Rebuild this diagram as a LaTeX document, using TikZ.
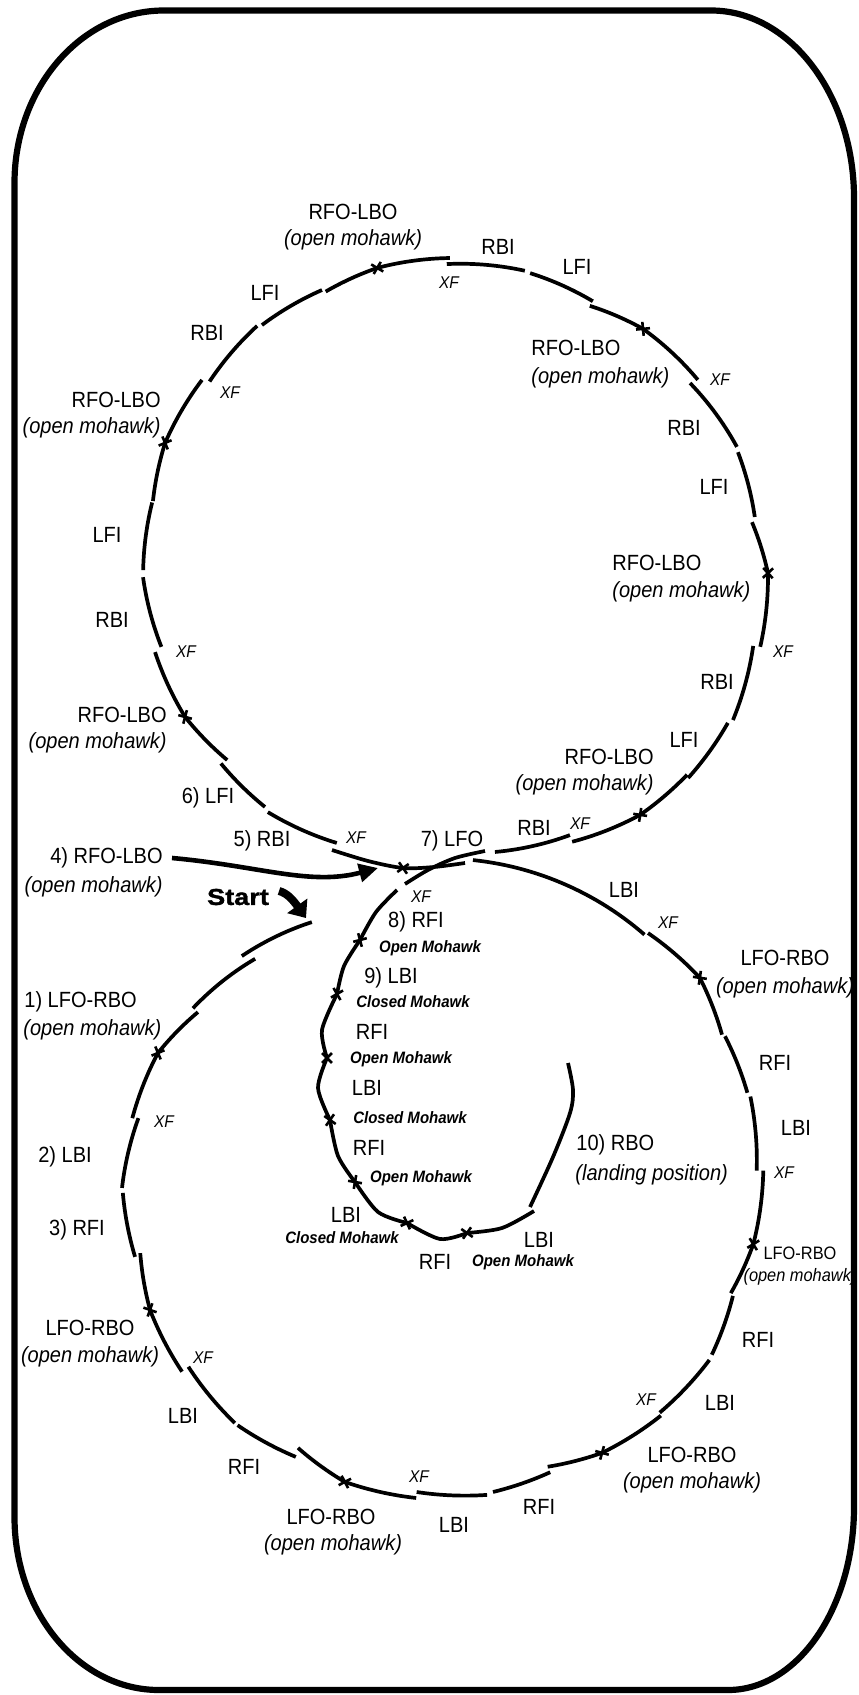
\documentclass[tikz,border=0pt]{standalone}
\usepackage{fontspec}
\setmainfont{Liberation Sans}
\newfontfamily\lab[FakeStretch=0.91]{Liberation Sans}
\newfontfamily\stf[FakeStretch=1.18,FakeBold=1.6]{Liberation Sans}
\usetikzlibrary{arrows.meta,calc}
% arc segment around centre (#1,#2) from angle #3 to #4, radius #5 -> #6
\newcommand\segA[6]{\draw[crv] plot[domain=#3:#4,samples=30,variable=\ang]({#1+(#5+(#6-(#5))*(\ang-(#3))/((#4)-(#3)))*cos(\ang)},{#2+(#5+(#6-(#5))*(\ang-(#3))/((#4)-(#3)))*sin(\ang)});}
% tick mark at named point #1, normal direction #2
\newcommand\tickp[2]{\draw[tkl] ($(#1)+({#2+45}:7)$) -- ($(#1)+({#2+225}:7)$) ($(#1)+({#2-45}:7)$) -- ($(#1)+({#2+135}:7)$);}
% arc segment with a mohawk tick at angle #4
\newcommand\segT[8]{\draw[crv] plot[domain=#3:#4,samples=20,variable=\ang]({#1+(#6+(#7-(#6))*(\ang-(#3))/((#4)-(#3)))*cos(\ang)},{#2+(#6+(#7-(#6))*(\ang-(#3))/((#4)-(#3)))*sin(\ang)}) -- plot[domain=#4:#5,samples=20,variable=\ang]({#1+(#7+(#8-(#7))*(\ang-(#4))/((#5)-(#4)))*cos(\ang)},{#2+(#7+(#8-(#7))*(\ang-(#4))/((#5)-(#4)))*sin(\ang)});
\coordinate (tkp) at ({#1+#7*cos(#4)},{#2+#7*sin(#4)}); \tickp{tkp}{#4}}
\tikzset{
  crv/.style={line width=1.85pt, line join=round},
  tkl/.style={line width=1.3pt},
  bord/.style={line width=3.1pt},
  lb/.style={font=\lab\fontsize{11}{13}\selectfont, inner sep=0pt},
  lbi/.style={font=\lab\itshape\fontsize{11}{13}\selectfont, inner sep=0pt},
  sm/.style={font=\lab\fontsize{9}{11}\selectfont, inner sep=0pt},
  smi/.style={font=\lab\itshape\fontsize{9}{11}\selectfont, inner sep=0pt},
  xf/.style={font=\lab\itshape\fontsize{8.5}{10}\selectfont, inner sep=0pt},
  mh/.style={font=\lab\bfseries\itshape\fontsize{8.25}{10}\selectfont, inner sep=0pt},
  st/.style={font=\stf\bfseries\fontsize{11.5}{13}\selectfont, inner sep=0pt},
  arrowfour/.style={line width=2.3pt, -{Triangle[length=9.5pt,width=9pt]}},
  startarrow/.style={line width=4pt, -{Triangle[length=7.5pt,width=12pt]}}
}
\begin{document}
\begin{tikzpicture}[x=0.5pt,y=-0.5pt]
\useasboundingbox (0,0) rectangle (858,1695);
% rink border
\draw[bord] (164,10.5) -- (711,10.5) .. controls (790,10.5) and (854,95) .. (854,198)
  -- (854,1507) .. controls (854,1608) and (797.6,1690) .. (728,1690)
  -- (159,1690) .. controls (79,1690) and (14.5,1612.5) .. (14.5,1517)
  -- (14.5,183) .. controls (14.5,87.7) and (81.4,10.5) .. cycle;

% ---------- upper loop ----------
\draw[crv] plot[smooth] coordinates {(332,850) (368,861) (403,868) (434,867) (465,863)};
\coordinate (tA) at (403,868); \tickp{tA}{100}
\segA{453}{561}{112.4}{126.4}{305}{312}
\segA{453}{561}{127.4}{138.9}{309.6}{308}
\segT{453}{561}{138.6}{149.8}{163.0}{301}{310}{311.6}
\segA{453}{561}{163.6}{177.0}{304}{310.4}
\segA{453}{561}{178.3}{191.0}{310}{306.5}
\segT{453}{561}{191.3}{202.3}{215.8}{306}{311.2}{309.5}
\segA{453}{561}{216.4}{230.2}{302.5}{306}
\segA{453}{561}{231.0}{244.2}{303.6}{301}
\segT{453}{561}{244.7}{255.5}{269.4}{298}{302.7}{303}
\segA{453}{561}{268.8}{283.9}{297}{299}
\segA{453}{561}{285.0}{298.3}{298}{295}
\segT{453}{561}{298.2}{309.3}{323.5}{289.5}{300}{304.6}
\segA{453}{561}{323.1}{338.1}{296.4}{306}
\segA{453}{561}{339.1}{351.7}{305}{305}
\segT{453}{561}{352.6}{362.2}{375.6}{301.5}{315.2}{319}
\segA{453}{561}{375.8}{389.6}{312}{322}
\segA{453}{561}{390.5}{402.7}{319}{320}
\segT{453}{561}{402.4}{413.6}{427.0}{317}{315.4}{305}
\segA{453}{561}{426.9}{441.8}{298}{294}
% 7) LFO
\draw[crv] plot[smooth] coordinates {(485,851) (455,858) (428,870) (405,884)};

% ---------- lower loop ----------
\segA{442}{1170}{-84.3}{-49.3}{311.5}{310.5}
\segT{442}{1170}{-49.0}{-36.7}{-25.8}{314}{321.6}{311}
\segA{442}{1170}{-25.3}{-14.2}{313}{315}
\segA{442}{1170}{-13.4}{0.1}{317}{314.7}
\segT{442}{1170}{0.1}{13.4}{23.1}{321.3}{320}{314}
\segA{442}{1170}{23.4}{34.4}{317}{327}
\segA{442}{1170}{35.4}{48.1}{328}{326}
\segT{442}{1170}{48.3}{60.5}{70.4}{329}{325}{315}
\segA{442}{1170}{70.3}{81.0}{321}{326}
\segA{442}{1170}{82.1}{94.5}{328}{323}
\segT{442}{1170}{94.5}{107.3}{117.4}{329}{326.7}{313}
\segA{442}{1170}{117.0}{128.7}{322}{327}
\segA{442}{1170}{129.3}{142.2}{327}{321}
\segT{442}{1170}{142.2}{154.4}{164.6}{329}{323.8}{313}
\segA{442}{1170}{164.2}{175.9}{319}{320}
\segA{442}{1170}{176.8}{189.7}{320.5}{308}
\segT{442}{1170}{189.5}{202.4}{212.9}{314}{307.2}{290.7}
\segA{442}{1170}{213.0}{228.5}{297}{282}
\segA{442}{1170}{226.9}{242.3}{293}{280}

% ---------- inner spiral ----------
\draw[crv] plot[smooth] coordinates {(397,890) (376,912) (360,940)}
  -- plot[smooth] coordinates {(360,940) (344,966) (337,994)}
  -- plot[smooth] coordinates {(337,994) (322,1030) (327,1058)}
  -- plot[smooth] coordinates {(327,1058) (318,1088) (330,1120)}
  -- plot[smooth] coordinates {(330,1120) (338,1156) (355,1182)}
  -- plot[smooth] coordinates {(355,1182) (378,1212) (407,1223)}
  -- plot[smooth] coordinates {(407,1223) (440,1239) (467,1233)}
  -- plot[smooth] coordinates {(467,1233) (502,1228) (534,1211)};
\coordinate (i1) at (360,940); \tickp{i1}{210}
\coordinate (i2) at (337,994); \tickp{i2}{195}
\coordinate (i3) at (327,1058); \tickp{i3}{180}
\coordinate (i4) at (330,1120); \tickp{i4}{170}
\coordinate (i5) at (355,1182); \tickp{i5}{145}
\coordinate (i6) at (407,1223); \tickp{i6}{110}
\coordinate (i7) at (467,1233); \tickp{i7}{80}
% 10) RBO
\draw[crv] plot[smooth] coordinates {(530,1207) (553,1157) (570,1113) (573,1090) (568,1063)};

% ---------- arrows ----------
\coordinate (a4s) at (172,858);
\coordinate (a4e) at (378,868);
\draw[arrowfour] (a4s) .. controls (260,866) and (310,886) .. (a4e);
\coordinate (s1) at (279,891);
\coordinate (s2) at (306,918);
\draw[startarrow] (s1) .. controls (287,893) and (293,900) .. (s2);

% ---------- labels: upper loop ----------
\node[lb] (u1) at (353,212) {RFO-LBO};
\node[lbi] (u1i) at (353,240) {(open mohawk)};
\node[lb] (u2) at (498,247) {RBI};
\node[lb] (u3) at (577,267) {LFI};
\node[lb] (u4) at (265,293) {LFI};
\node[lb] (u5) at (207,333) {RBI};
\node[xf] (u6) at (449,283) {XF};
\node[lb,anchor=west] (u7) at (531,348) {RFO-LBO};
\node[lbi,anchor=west] (u7i) at (531,378) {(open mohawk)};
\node[xf] (u8) at (720,380) {XF};
\node[lb,anchor=east] (u9) at (161,400) {RFO-LBO};
\node[lbi,anchor=east] (u9i) at (161,428) {(open mohawk)};
\node[xf] (u10) at (230,393) {XF};
\node[lb] (u11) at (684,428) {RBI};
\node[lb] (u12) at (714,487) {LFI};
\node[lb] (u13) at (107,535) {LFI};
\node[lb,anchor=west] (u14) at (612,563) {RFO-LBO};
\node[lbi,anchor=west] (u14i) at (612,592) {(open mohawk)};
\node[lb] (u15) at (112,620) {RBI};
\node[xf] (u16) at (186,652) {XF};
\node[xf] (u17) at (783,652) {XF};
\node[lb] (u18) at (717,682) {RBI};
\node[lb,anchor=east] (u19) at (167,715) {RFO-LBO};
\node[lbi,anchor=east] (u19i) at (167,743) {(open mohawk)};
\node[lb] (u20) at (684,740) {LFI};
\node[lb,anchor=east] (u21) at (654,757) {RFO-LBO};
\node[lbi,anchor=east] (u21i) at (654,785) {(open mohawk)};
\node[lb] (u22) at (208,798) {6) LFI};
\node[lb] (u23) at (534,828) {RBI};
\node[xf] (u24) at (580,824) {XF};
\node[lb] (u25) at (262,841) {5) RBI};
\node[xf] (u26) at (356,838) {XF};
\node[lb] (u27) at (452,841) {7) LFO};
\node[lb,anchor=east] (u28) at (163,858) {4) RFO-LBO};
\node[lbi,anchor=east] (u28i) at (163,887) {(open mohawk)};
\node[lb] (u29) at (624,890) {LBI};

% ---------- labels: lower part ----------
\node[st] (start) at (238,897) {Start};
\node[xf] (v1) at (421,897) {XF};
\node[lb] (v2) at (416,922) {8) RFI};
\node[xf] (v3) at (668,923) {XF};
\node[mh] (v4) at (430,948) {Open Mohawk};
\node[lb] (v5) at (785,958) {LFO-RBO};
\node[lbi] (v5i) at (785,988) {(open mohawk)};
\node[lb] (v6) at (391,978) {9) LBI};
\node[mh] (v7) at (413,1002) {Closed Mohawk};
\node[lb,anchor=west] (v8) at (24,1002) {1) LFO-RBO};
\node[lbi,anchor=west] (v8i) at (23,1030) {(open mohawk)};
\node[lb] (v9) at (372,1032) {RFI};
\node[mh] (v10) at (401,1059) {Open Mohawk};
\node[lb] (v11) at (775,1063) {RFI};
\node[lb] (v12) at (367,1088) {LBI};
\node[xf] (v13) at (164,1122) {XF};
\node[mh] (v14) at (410,1118) {Closed Mohawk};
\node[lb] (v15) at (796,1128) {LBI};
\node[lb,anchor=west] (v16) at (576,1145) {10) RBO};
\node[lbi,anchor=west] (v16i) at (575,1175) {(landing position)};
\node[lb] (v17) at (369,1148) {RFI};
\node[lb] (v18) at (65,1157) {2) LBI};
\node[mh] (v19) at (421,1178) {Open Mohawk};
\node[xf] (v20) at (784,1173) {XF};
\node[lb] (v21) at (346,1215) {LBI};
\node[mh] (v22) at (342,1238) {Closed Mohawk};
\node[lb] (v23) at (539,1240) {LBI};
\node[lb] (v24) at (77,1230) {3) RFI};
\node[sm] (v25) at (800,1253) {LFO-RBO};
\node[smi] (v25i) at (800,1277) {(open mohawk)};
\node[lb] (v26) at (435,1262) {RFI};
\node[mh] (v27) at (523,1262) {Open Mohawk};
\node[lb] (v28) at (90,1328) {LFO-RBO};
\node[lbi] (v28i) at (90,1357) {(open mohawk)};
\node[xf] (v29) at (203,1358) {XF};
\node[lb] (v30) at (758,1340) {RFI};
\node[lb] (v31) at (183,1416) {LBI};
\node[xf] (v32) at (646,1400) {XF};
\node[lb] (v33) at (720,1403) {LBI};
\node[lb] (v34) at (244,1467) {RFI};
\node[lb] (v35) at (692,1455) {LFO-RBO};
\node[lbi] (v35i) at (692,1483) {(open mohawk)};
\node[xf] (v36) at (419,1477) {XF};
\node[lb] (v37) at (539,1507) {RFI};
\node[lb] (v38) at (331,1517) {LFO-RBO};
\node[lbi] (v38i) at (333,1545) {(open mohawk)};
\node[lb] (v39) at (454,1525) {LBI};
\end{tikzpicture}
\end{document}
